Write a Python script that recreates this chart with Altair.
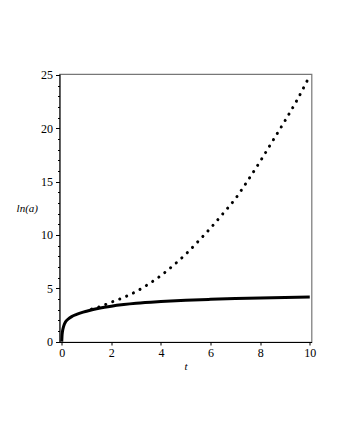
import altair as alt
import pandas as pd

# Solid curve
t_solid = [0, 0.01, 0.03, 0.06, 0.1, 0.15, 0.25, 0.4, 0.6, 0.8, 1.0, 1.5, 2, 2.5, 3, 4, 5, 6, 7, 8, 9, 10]
ln_solid = [0, 0.5, 0.95, 1.3, 1.6, 1.85, 2.1, 2.35, 2.55, 2.72, 2.85, 3.13, 3.33, 3.48, 3.6, 3.76, 3.88, 3.97, 4.04, 4.1, 4.15, 4.19]

# Dotted curve
t_dot = [1.2, 1.5, 2, 2.5, 3, 3.5, 4, 4.5, 5, 5.5, 6, 6.5, 7, 7.5, 8, 8.5, 9, 9.5, 9.95]
ln_dot = [3.05, 3.25, 3.7, 4.15, 4.7, 5.4, 6.2, 7.15, 8.2, 9.4, 10.65, 12.0, 13.4, 15.1, 16.9, 18.8, 20.7, 22.7, 24.7]

x_ticks = [0, 2, 4, 6, 8, 10]
y_ticks = list(range(0, 26))

solid_df = pd.DataFrame({"t": t_solid, "v": ln_solid})
dot_df = pd.DataFrame({"t": t_dot, "v": ln_dot})

FONT = "'Liberation Serif', 'Times New Roman', Times, serif"

x_enc = alt.X(
    "t:Q",
    scale=alt.Scale(domain=[-0.09, 10.07], nice=False, zero=False),
    axis=alt.Axis(
        values=x_ticks, title="t", titleFont=FONT, titleFontStyle="italic",
        titleFontWeight="normal", titleFontSize=11, titlePadding=2,
        labelFont=FONT, labelFontSize=12, labelColor="black",
        tickSize=3, tickColor="black", domainColor="black", grid=False,
        labelPadding=2,
    ),
)
y_enc = alt.Y(
    "v:Q",
    scale=alt.Scale(domain=[-0.03, 25.09], nice=False, zero=False),
    axis=alt.Axis(
        values=y_ticks,
        labelExpr="datum.value % 5 === 0 ? datum.label : ''",
        title="ln(a)", titleFont=FONT, titleFontStyle="italic",
        titleFontWeight="normal", titleFontSize=11, titleAngle=0,
        titleAlign="right", titleBaseline="middle", titleX=-22, titleY=134,
        labelFont=FONT, labelFontSize=12, labelColor="black",
        tickSize={"condition": {"test": "datum.value % 5 === 0", "value": 4}, "value": 2},
        tickColor="black", domainColor="black", grid=False, labelPadding=3,
    ),
)

solid = alt.Chart(solid_df).mark_line(
    color="black", strokeWidth=3, interpolate="monotone"
).encode(x=x_enc, y=y_enc)

dots = alt.Chart(dot_df).mark_line(
    color="black", strokeWidth=3, strokeDash=[0.1, 7.4], strokeCap="round",
    interpolate="monotone"
).encode(x=x_enc, y=y_enc)

chart = alt.layer(dots, solid).properties(
    width=252, height=268,
    autosize=alt.AutoSizeParams(type="none"),
    padding={"left": 51.5, "top": 66, "right": 20, "bottom": 80},
).configure_view(stroke="#777", strokeWidth=1.2)

chart.save("out.html", embed_options={"renderer": "svg", "actions": False})
